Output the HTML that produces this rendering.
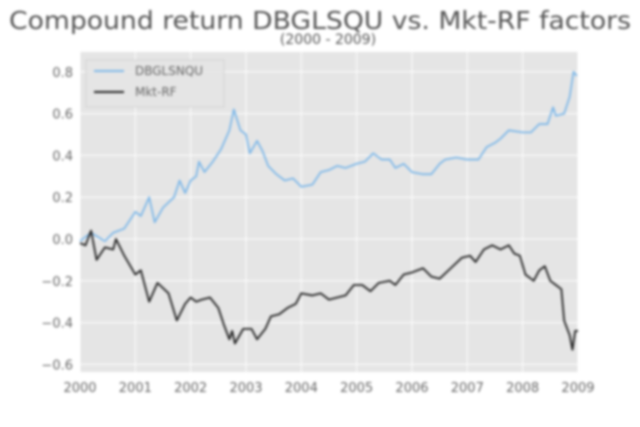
<!DOCTYPE html>
<html><head><meta charset="utf-8"><style>
body{margin:0;background:#fff;}
svg{display:block;filter:blur(1.2px);font-family:"DejaVu Sans","Liberation Sans",sans-serif;}
</style></head><body>
<svg id="chart" width="640" height="427" viewBox="0 0 640 427">
<text x="320" y="29" text-anchor="middle" font-size="25" fill="#555" textLength="622" lengthAdjust="spacingAndGlyphs">Compound return DBGLSQU vs. Mkt-RF factors</text>
<text x="328" y="44" text-anchor="middle" font-size="14" fill="#555">(2000 - 2009)</text>
<rect x="80" y="52" width="498" height="320" fill="#e5e5e5"/>
<g id="grid"></g><g id="axes"></g><g id="series"></g>
<g>
<rect x="86" y="60" width="138" height="47" fill="#e5e5e5" stroke="#ccc" stroke-width="0.8" opacity="0.9"/>
<line x1="94" y1="71" x2="124" y2="71" stroke="#7fb8e8" stroke-width="2"/>
<text x="135" y="75" font-size="12" fill="#666">DBGLSNQU</text>
<line x1="94" y1="92" x2="124" y2="92" stroke="#222" stroke-width="2"/>
<text x="135" y="96" font-size="12" fill="#666">Mkt-RF</text>
</g>
</svg>
<script>
const xTicks=[2000,2001,2002,2003,2004,2005,2006,2007,2008,2009];
const yTicks=[0.8,0.6,0.4,0.2,0.0,-0.2,-0.4,-0.6];
const dbDates=[2000.0,2000.2,2000.45,2000.6,2000.8,2001.0,2001.1,2001.25,2001.35,2001.5,2001.7,2001.8,2001.9,2002.0,2002.1,2002.15,2002.25,2002.4,2002.55,2002.7,2002.78,2002.9,2003.0,2003.07,2003.2,2003.3,2003.4,2003.55,2003.7,2003.85,2004.0,2004.2,2004.35,2004.5,2004.65,2004.8,2005.0,2005.15,2005.3,2005.45,2005.6,2005.7,2005.85,2006.0,2006.2,2006.35,2006.5,2006.6,2006.8,2007.0,2007.2,2007.35,2007.5,2007.6,2007.75,2008.0,2008.15,2008.3,2008.45,2008.55,2008.6,2008.75,2008.85,2008.92,2008.98];
const dbValues=[-0.01,0.03,-0.01,0.03,0.05,0.13,0.11,0.2,0.08,0.15,0.2,0.28,0.22,0.28,0.3,0.37,0.32,0.37,0.43,0.52,0.62,0.52,0.5,0.41,0.47,0.42,0.35,0.31,0.28,0.29,0.25,0.26,0.32,0.33,0.35,0.34,0.36,0.37,0.41,0.38,0.38,0.34,0.36,0.32,0.31,0.31,0.36,0.38,0.39,0.38,0.38,0.44,0.46,0.48,0.52,0.51,0.51,0.55,0.55,0.63,0.59,0.6,0.68,0.8,0.78];
const mkDates=[2000.0,2000.1,2000.2,2000.3,2000.45,2000.6,2000.65,2000.8,2001.0,2001.1,2001.25,2001.4,2001.6,2001.75,2001.9,2002.0,2002.1,2002.2,2002.35,2002.5,2002.6,2002.7,2002.75,2002.8,2002.95,2003.1,2003.2,2003.35,2003.45,2003.6,2003.75,2003.9,2004.0,2004.2,2004.35,2004.5,2004.65,2004.8,2004.95,2005.1,2005.25,2005.4,2005.6,2005.7,2005.85,2006.0,2006.2,2006.35,2006.5,2006.7,2006.9,2007.05,2007.15,2007.3,2007.45,2007.6,2007.75,2007.85,2007.95,2008.05,2008.2,2008.3,2008.4,2008.5,2008.6,2008.7,2008.75,2008.85,2008.9,2008.95,2009.0];
const mkValues=[-0.02,-0.03,0.04,-0.1,-0.04,-0.05,0.0,-0.08,-0.17,-0.15,-0.3,-0.21,-0.26,-0.39,-0.31,-0.28,-0.3,-0.29,-0.28,-0.33,-0.41,-0.48,-0.44,-0.5,-0.43,-0.43,-0.48,-0.43,-0.37,-0.36,-0.33,-0.31,-0.26,-0.27,-0.26,-0.29,-0.28,-0.27,-0.22,-0.22,-0.25,-0.21,-0.2,-0.22,-0.17,-0.16,-0.14,-0.18,-0.19,-0.14,-0.09,-0.08,-0.11,-0.05,-0.03,-0.05,-0.03,-0.07,-0.08,-0.17,-0.2,-0.15,-0.13,-0.2,-0.22,-0.24,-0.39,-0.46,-0.53,-0.44,-0.44];
const NS='http://www.w3.org/2000/svg';
const X=v=>80+(v-2000)*55.33;
const Y=v=>239-v*209;
const grid=document.getElementById('grid'),axes=document.getElementById('axes'),ser=document.getElementById('series');
function mk(tag,attrs,parent){const e=document.createElementNS(NS,tag);for(const k in attrs)e.setAttribute(k,attrs[k]);parent.appendChild(e);return e;}
xTicks.forEach(t=>{
 const l=mk('line',{x1:X(t),x2:X(t),y1:52,y2:372,stroke:'#fff','stroke-width':1},grid);
 
 
 const tx=mk('text',{x:X(t),y:392,'text-anchor':'middle','font-size':13,fill:'#666'},axes);
 tx.textContent=t;
 
 
});
yTicks.forEach(t=>{
 const l=mk('line',{x1:80,x2:578,y1:Y(t),y2:Y(t),stroke:'#fff','stroke-width':1},grid);
 
 
 const tx=mk('text',{x:73,y:Y(t)+5,'text-anchor':'end','font-size':13,fill:'#666'},axes);
 tx.textContent=(t<0?'\u2212':'')+Math.abs(t).toFixed(1);
 
 
});
function line(d,v,color,name){
 const p=mk('polyline',{points:d.map((x,i)=>X(x)+','+Y(v[i])).join(' '),fill:'none',stroke:color,'stroke-width':1.8,'stroke-linejoin':'round'},ser);
 
 
}
line(dbDates,dbValues,'#7fb8e8','dbglsnqu-line');
line(mkDates,mkValues,'#222','mkt-rf-line');
</script>
</body></html>
